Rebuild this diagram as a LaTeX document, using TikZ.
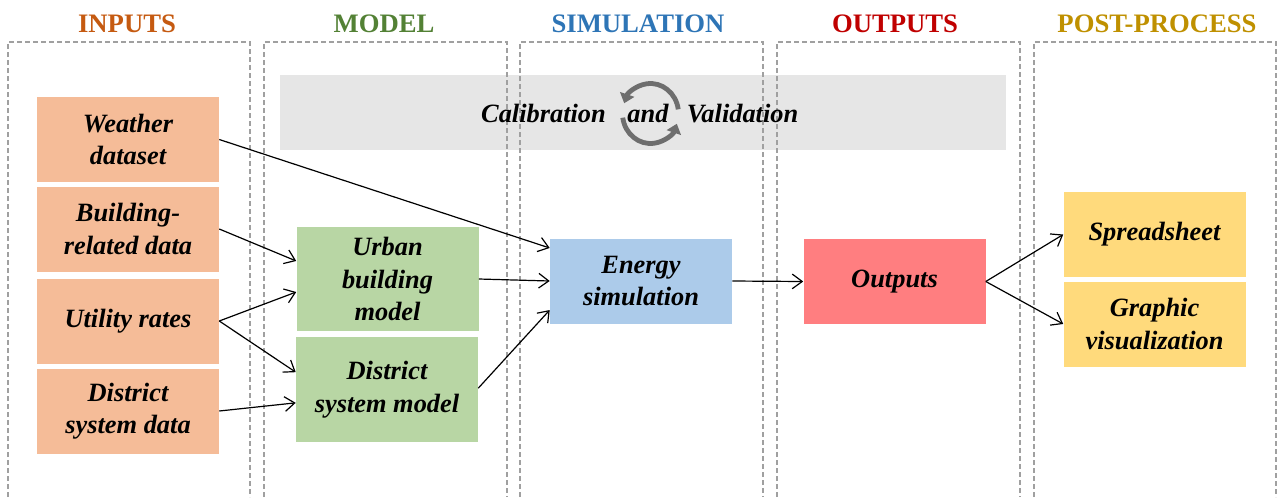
\documentclass[tikz,border=0pt]{standalone}
\usepackage{amsmath}
\usepackage{fontspec}
\setmainfont{Liberation Serif}
\usepackage{tikz}
\usetikzlibrary{arrows.meta}

\definecolor{inorange}{RGB}{245,188,152}
\definecolor{modgreen}{RGB}{184,214,164}
\definecolor{simblue}{RGB}{172,203,234}
\definecolor{outred}{RGB}{255,126,128}
\definecolor{postgold}{RGB}{255,218,124}
\definecolor{bandgray}{RGB}{230,230,230}
\definecolor{dashgray}{RGB}{160,160,160}
\definecolor{cyclegray}{RGB}{110,110,110}
\definecolor{hdrorange}{RGB}{197,90,17}
\definecolor{hdrgreen}{RGB}{83,129,53}
\definecolor{hdrblue}{RGB}{46,117,182}
\definecolor{hdrred}{RGB}{192,0,0}
\definecolor{hdrgold}{RGB}{191,144,0}

\tikzset{
  hdr/.style={inner sep=0.75pt, font=\fontsize{20}{24}\selectfont\bfseries},
  blk/.style={inner sep=0pt, align=center, minimum width=136.5pt, minimum height=63.75pt,
              font=\fontsize{19.8}{24.4}\selectfont\bfseries\itshape},
  lbl/.style={inner sep=0pt, anchor=base, font=\fontsize{19.8}{24.4}\selectfont\bfseries\itshape},
  col/.style={draw=dashgray, line width=1.1pt, dash pattern=on 3.75pt off 2.25pt},
  flow/.style={-{Straight Barb[length=7.5pt,width=11pt]}, line width=0.9pt},
  cyc/.style={draw=cyclegray, line width=3.6pt, -{Triangle[length=7pt,width=11pt]}},
}

\begin{document}
\begin{tikzpicture}[x=0.75pt,y=0.75pt,yscale=-1,xscale=1]
\useasboundingbox (0,0) rectangle (1277,497);

%Shape: Rectangle [calibration band]
\fill [bandgray] (280,75) rectangle (1006,150);

%Shape: dashed columns
\draw [col] (8,497) -- (8,42) -- (250,42) -- (250,497);
\draw [col] (264,497) -- (264,42) -- (507,42) -- (507,497);
\draw [col] (520,497) -- (520,42) -- (763,42) -- (763,497);
\draw [col] (777,497) -- (777,42) -- (1020,42) -- (1020,497);
\draw [col] (1034,497) -- (1034,42) -- (1276,42) -- (1276,497);

% Column titles
\node [hdr, text=hdrorange] (hinputs) at (127,24) {INPUTS};
\node [hdr, text=hdrgreen] (hmodel) at (384,24) {MODEL};
\node [hdr, text=hdrblue] (hsim) at (638,24) {SIMULATION};
\node [hdr, text=hdrred] (houtputs) at (895,24) {OUTPUTS};
\node [hdr, text=hdrgold] (hpost) at (1157,24) {POST-PROCESS};

%Cycle arrows
\coordinate (cyc) at (650.5,113.5);
\draw [cyc] ([shift={(-8:28 and 30)}]cyc) arc [start angle=-8, end angle=-160, x radius=28, y radius=30];
\draw [cyc] ([shift={(172:28 and 30)}]cyc) arc [start angle=172, end angle=20, x radius=28, y radius=30];

% Text Node
\node [lbl] (calib) at (543.5,122) {Calibration};
\node [lbl] (caland) at (648,122) {and};
\node [lbl] (valid) at (742.5,122) {Validation};

% Inputs
\node [blk, fill=inorange] (weather) at (128,139.5) {Weather\\dataset};
\node [blk, fill=inorange] (building) at (128,229) {Building-\\related data};
\node [blk, fill=inorange] (utility) at (128,321) {Utility rates};
\node [blk, fill=inorange] (distdata) at (128,411) {District\\system data};

% Model
\node [blk, fill=modgreen, minimum height=78pt] (urban) at (387.5,279) {Urban\\building\\model};
\node [blk, fill=modgreen, minimum height=78.75pt] (distmodel) at (387,389.5) {District\\system model};

% Simulation, outputs, post-process
\node [blk, fill=simblue] (energy) at (641,281) {Energy\\simulation};
\node [blk, fill=outred] (outputs) at (894.5,281.5) {Outputs};
\node [blk, fill=postgold] (sheet) at (1154.5,234.5) {Spreadsheet};
\node [blk, fill=postgold] (graphic) at (1154.5,324) {Graphic\\visualization};

%Straight Lines
\draw [flow] (weather.east) -- ([yshift=-24.75pt]energy.west);
\draw [flow] (building.east) -- ([yshift=-13.5pt]urban.west);
\draw [flow] (utility.east) -- ([yshift=9.75pt]urban.west);
\draw [flow] (utility.east) -- ([yshift=-13pt]distmodel.west);
\draw [flow] (distdata.east) -- ([yshift=10pt]distmodel.west);
\draw [flow] (urban.east) -- (energy.west);
\draw [flow] ([yshift=-1pt]distmodel.east) -- ([yshift=21.75pt]energy.west);
\draw [flow] (energy.east) -- (outputs.west);
\draw [flow] (outputs.east) -- (sheet.west);
\draw [flow] (outputs.east) -- (graphic.west);

\end{tikzpicture}
\end{document}
